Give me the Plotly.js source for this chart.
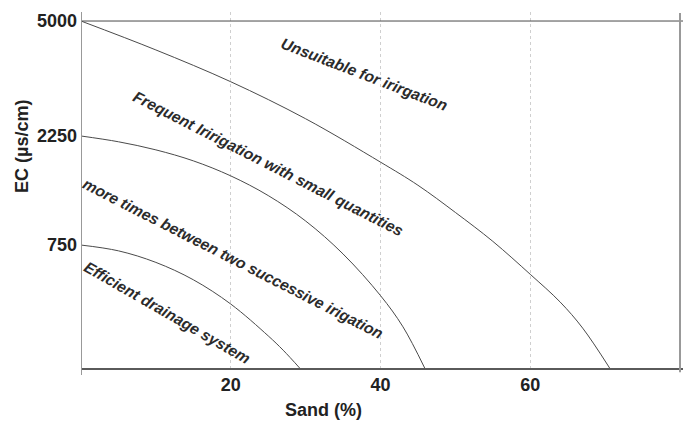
<!DOCTYPE html>
<html>
<head>
<meta charset="utf-8">
<script src="https://cdn.plot.ly/plotly-3.0.1.min.js"></script>
<style>
html,body{margin:0;padding:0;background:#fff;}
#chart{width:683px;height:422px;}
</style>
</head>
<body>
<div id="chart"></div>
<script>
// Sand (%) positions and EC level (axis index: 1.063 = 750, 2.006 = 2250, 3 = 5000)
const limitTopX = [0, 80.4];
const limitTopY = [3.0, 3.0];

const curve5000X = [0, 10, 20, 30, 40, 45, 50, 55, 60, 64, 67, 70.6];
const curve5000Y = [3.0, 2.75, 2.475, 2.155, 1.78, 1.58, 1.345, 1.095, 0.81, 0.57, 0.345, 0];

const curve2250X = [0, 5, 10, 15, 20, 25, 30, 35, 40, 43, 45.9];
const curve2250Y = [2.006, 1.956, 1.886, 1.791, 1.661, 1.491, 1.271, 0.986, 0.626, 0.356, 0];

const curve750X = [0, 5, 10, 15, 20, 25, 27, 29.2];
const curve750Y = [1.063, 1.013, 0.913, 0.763, 0.553, 0.278, 0.154, 0];

const xTickVals = [20, 40, 60];
const xTickText = ["20", "40", "60"];
const yTickVals = [1.063, 2.006, 3.0];
const yTickText = ["750", "2250", "5000"];

const zoneLabels = [
  "Unsuitable for irirgation",
  "Frequent Iririgation with small quantities",
  "more times between two successive irigation",
  "Efficient drainage system"
];

const lineStyle = {color: "#4a4a4a", width: 1};
function trace(x, y) {
  return {x: x, y: y, type: "scatter", mode: "lines", line: Object.assign({shape: "spline", smoothing: 1}, lineStyle), hoverinfo: "skip", showlegend: false};
}
const data = [
  trace(limitTopX, limitTopY),
  trace(curve5000X, curve5000Y),
  trace(curve2250X, curve2250Y),
  trace(curve750X, curve750Y)
];

const fontFam = "Liberation Sans, Arial, sans-serif";
const labelFont = {family: fontFam, size: 15.6, color: "#2b2b2b"};
const annPos = [
  {x: 37.9, y: 2.54, a: 21},
  {x: 25.0, y: 1.77, a: 27},
  {x: 20.3, y: 0.95, a: 27},
  {x: 11.5, y: 0.48, a: 30}
];
const annotations = zoneLabels.map((t, i) => ({
  text: "<b><i>" + t + "</i></b>", x: annPos[i].x, y: annPos[i].y, xref: "x", yref: "y",
  textangle: annPos[i].a, showarrow: false, font: labelFont, xanchor: "center", yanchor: "middle"
}));
annotations.push({
  text: "<b>Sand (%)</b>", xref: "paper", yref: "paper", x: 0.402, y: -0.118,
  showarrow: false, font: {family: fontFam, size: 18, color: "#222"}, xanchor: "center", yanchor: "middle"
});
annotations.push({
  text: "<b>EC (µs/cm)</b>", xref: "paper", yref: "paper", x: -0.098, y: 0.621, textangle: -90,
  showarrow: false, font: {family: fontFam, size: 18, color: "#222"}, xanchor: "center", yanchor: "middle"
});

const layout = {
  width: 683, height: 422,
  margin: {l: 81, r: 0, t: 12, b: 54},
  paper_bgcolor: "#fff", plot_bgcolor: "#fff",
  showlegend: false,
  xaxis: {
    range: [0, 80.4], tickvals: xTickVals, ticktext: xTickText.map(s => "<b>" + s + "</b>"),
    showgrid: true, gridcolor: "#cfcfcf", griddash: "dot", gridwidth: 1,
    zeroline: false, showline: true, linecolor: "#5a5a5a", linewidth: 1.5,
    ticks: "", ticklen: 0, ticklabelstandoff: 0,
    tickfont: {family: fontFam, size: 18, color: "#222"}
  },
  yaxis: {
    range: [0, 3.078], tickvals: yTickVals, ticktext: yTickText.map(s => "<b>" + s + "</b>"),
    showgrid: false, zeroline: false, showline: false,
    ticks: "", ticklen: 0, ticklabelstandoff: 3,
    tickfont: {family: fontFam, size: 18, color: "#222"}
  },
  shapes: [
    {type: "line", xref: "x", yref: "paper", x0: 0, x1: 0, y0: -0.02, y1: 1, line: {color: "#999", width: 2}},
    {type: "line", xref: "x", yref: "paper", x0: 80, x1: 80, y0: -0.012, y1: 0.997, line: {color: "#999", width: 2}}
  ],
  annotations: annotations
};

Plotly.newPlot("chart", data, layout, {staticPlot: true, displayModeBar: false});
</script>
</body>
</html>
